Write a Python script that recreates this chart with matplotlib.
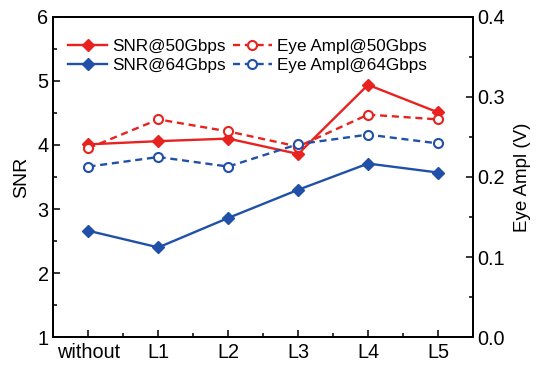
import matplotlib
matplotlib.use("Agg")
import matplotlib.pyplot as plt
from matplotlib.ticker import MultipleLocator

plt.rcParams['font.family'] = ['Liberation Sans', 'DejaVu Sans']

categories = ["without", "L1", "L2", "L3", "L4", "L5"]
snr_50 = [4.01, 4.06, 4.10, 3.86, 4.94, 4.51]
snr_64 = [2.66, 2.40, 2.86, 3.30, 3.71, 3.57]
eye_50 = [0.236, 0.272, 0.257, 0.238, 0.278, 0.272]
eye_64 = [0.213, 0.225, 0.213, 0.241, 0.253, 0.242]

red = "#E8231F"
blue = "#2150A8"

fig = plt.figure(figsize=(5.37, 3.66), dpi=100)
ax = fig.add_axes([0.0996, 0.0792, 0.781, 0.8744])
ax2 = ax.twinx()

x = list(range(len(categories)))
h1, = ax.plot(x, snr_50, color=red, lw=1.7, marker='D', ms=6, label="SNR@50Gbps")
h2, = ax.plot(x, snr_64, color=blue, lw=1.7, marker='D', ms=6, label="SNR@64Gbps")
h3, = ax2.plot(x, eye_50, color=red, lw=1.7, ls=(0, (3, 2)), marker='o', ms=6.5,
               mfc='white', mew=1.5, label="Eye Ampl@50Gbps")
h4, = ax2.plot(x, eye_64, color=blue, lw=1.7, ls=(0, (3, 2)), marker='o', ms=6.5,
               mfc='white', mew=1.5, label="Eye Ampl@64Gbps")

ax.set_xlim(-0.5, 5.5)
ax.set_ylim(1, 6)
ax2.set_ylim(0, 0.4)
ax.set_xticks(x)
ax.set_xticklabels(categories)
ax.xaxis.set_minor_locator(MultipleLocator(0.5))
ax.yaxis.set_major_locator(MultipleLocator(1))
ax.yaxis.set_minor_locator(MultipleLocator(0.5))
ax2.yaxis.set_major_locator(MultipleLocator(0.1))
ax2.yaxis.set_minor_locator(MultipleLocator(0.05))
ax2.set_yticklabels([f"{v:.1f}" for v in ax2.get_yticks()])

for a in (ax, ax2):
    a.tick_params(which='both', direction='in', labelsize=14.3, width=1.1)
    a.tick_params(which='major', length=5)
    a.tick_params(which='minor', length=3)
    for s in a.spines.values():
        s.set_linewidth(1.3)
ax.tick_params(axis='y', which='both', right=False)
ax.tick_params(axis='x', pad=4)
ax2.tick_params(axis='x', which='both', top=False, bottom=False)

ax.set_ylabel("SNR", fontsize=14, labelpad=5)
ax2.set_ylabel("Eye Ampl (V)", fontsize=13.5, labelpad=6)

ax2.legend(handles=[h1, h2, h3, h4], ncol=2, loc='upper left',
           bbox_to_anchor=(0.018, 0.954), frameon=False, fontsize=12.3,
           handlelength=2.3, handletextpad=0.3, columnspacing=0.4,
           labelspacing=0.25, borderaxespad=0.0)

fig.savefig("out.png", dpi=100)
